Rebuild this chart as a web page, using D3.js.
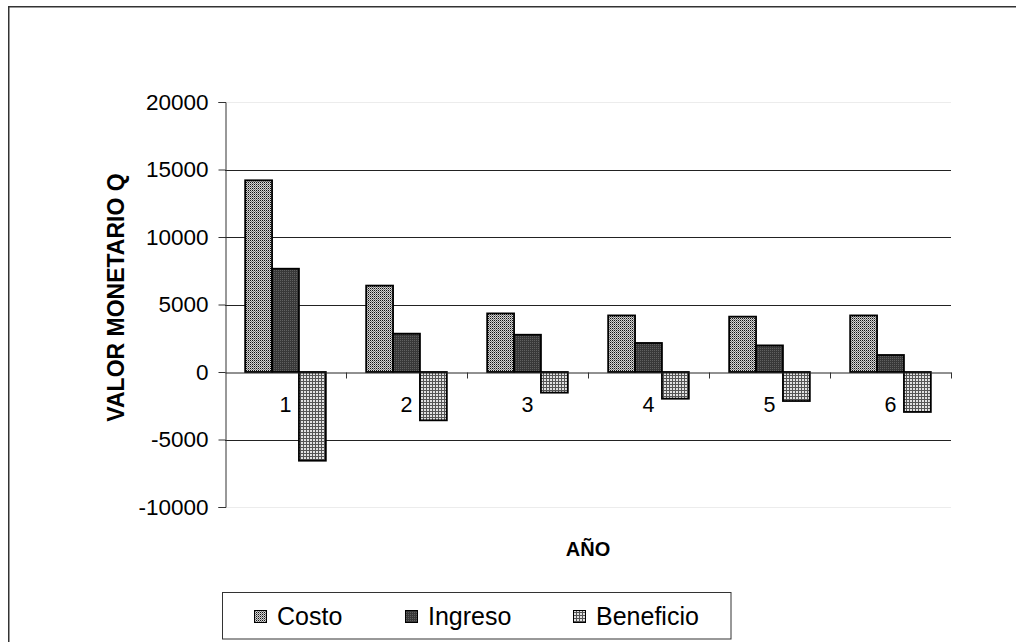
<!DOCTYPE html>
<html>
<head>
<meta charset="utf-8">
<script src="https://cdn.jsdelivr.net/npm/d3@7"></script>
<style>
  html, body { margin: 0; padding: 0; background: #fff; }
  svg { display: block; font-family: Arial, "Liberation Sans", sans-serif; }
</style>
</head>
<body>
<svg id="chart" width="1016" height="642"></svg>
<script>
// ---- Data ----
const categories = ["1", "2", "3", "4", "5", "6"];
const seriesNames = ["Costo", "Ingreso", "Beneficio"];
const costo = [14200, 6400, 4340, 4190, 4100, 4190];
const ingreso = [7650, 2840, 2760, 2150, 1970, 1260];
const beneficio = [-6570, -3580, -1530, -1980, -2150, -2960];
const yTicks = [-10000, -5000, 0, 5000, 10000, 15000, 20000];
const yTickLabels = ["-10000", "-5000", "0", "5000", "10000", "15000", "20000"];
const yTitle = "VALOR MONETARIO Q";
const xTitle = "AÑO";

const seriesValues = [costo, ingreso, beneficio];

const svg = d3.select("#chart");

// ---- Patterns ----
const defs = svg.append("defs");
// Costo: fine checker dots
const p1 = defs.append("pattern").attr("id", "pCosto").attr("patternUnits", "userSpaceOnUse")
  .attr("width", 2).attr("height", 2);
p1.append("rect").attr("width", 2).attr("height", 2).attr("fill", "#d4d4d4");
p1.append("rect").attr("width", 1).attr("height", 1).attr("fill", "#111");
p1.append("rect").attr("x", 1).attr("y", 1).attr("width", 1).attr("height", 1).attr("fill", "#7a7a7a");
// Ingreso: dark with lighter dots
const p2 = defs.append("pattern").attr("id", "pIngreso").attr("patternUnits", "userSpaceOnUse")
  .attr("width", 2).attr("height", 2);
p2.append("rect").attr("width", 2).attr("height", 2).attr("fill", "#383838");
p2.append("rect").attr("width", 1).attr("height", 1).attr("fill", "#606060");
// Beneficio: grid
const p3 = defs.append("pattern").attr("id", "pBeneficio").attr("patternUnits", "userSpaceOnUse")
  .attr("width", 3).attr("height", 3);
p3.append("rect").attr("width", 3).attr("height", 3).attr("fill", "#e2e2e2");
p3.append("rect").attr("width", 3).attr("height", 1).attr("fill", "#555");
p3.append("rect").attr("width", 1).attr("height", 3).attr("fill", "#555");

const fills = { "Costo": "url(#pCosto)", "Ingreso": "url(#pIngreso)", "Beneficio": "url(#pBeneficio)" };

// ---- Outer border ----
svg.append("rect").attr("x", 8.75).attr("y", 6.75).attr("width", 1040).attr("height", 660)
  .attr("fill", "none").attr("stroke", "#333").attr("stroke-width", 1.5);

// ---- Scales ----
const plotLeft = 225, plotRight = 951, plotTop = 102, plotBottom = 507;
const y = d3.scaleLinear().domain([-10000, 20000]).range([plotBottom, plotTop]);
const x0 = d3.scaleBand().domain(categories).range([plotLeft, plotRight]).padding(0);
const bw = x0.bandwidth();
const x1 = d3.scaleBand().domain(seriesNames).range([bw * 0.75 / 4.5, bw * 3.75 / 4.5]).padding(0);

// ---- Gridlines ----
svg.append("g").selectAll("line").data(yTicks.filter(t => t !== 0)).join("line")
  .attr("x1", plotLeft).attr("x2", plotRight)
  .attr("y1", d => Math.round(y(d)) + 0.5).attr("y2", d => Math.round(y(d)) + 0.5)
  .attr("stroke", d => (d === 20000 || d === -10000) ? "#ececec" : "#222")
  .attr("stroke-width", 1);

// ---- Bars ----
const gBars = svg.append("g");
seriesNames.forEach((name, si) => {
  gBars.append("g").selectAll("rect").data(seriesValues[si]).join("rect")
    .attr("x", (d, i) => x0(categories[i]) + x1(name))
    .attr("width", x1.bandwidth())
    .attr("y", d => y(Math.max(0, d)))
    .attr("height", d => Math.abs(y(d) - y(0)))
    .attr("fill", fills[name])
    .attr("stroke", "#000").attr("stroke-width", 1.8);
});

// ---- Y axis ----
const yAxis = d3.axisLeft(y).tickValues(yTicks).tickSize(7).tickPadding(10)
  .tickFormat((d, i) => yTickLabels[i]);
const gy = svg.append("g").attr("transform", `translate(${plotLeft + 0.5},0)`).call(yAxis);
gy.select(".domain").attr("stroke", "#333");
gy.selectAll(".tick line").attr("stroke", "#333");
gy.selectAll(".tick text").attr("font-size", "22.5px").attr("fill", "#000")
  .attr("font-family", "Arial, 'Liberation Sans', sans-serif");

// ---- X axis (at zero) ----
const xAxis = d3.axisBottom(x0).tickSize(0).tickPadding(0);
const gx = svg.append("g").attr("transform", `translate(0,${Math.round(y(0)) + 0.5})`).call(xAxis);
gx.select(".domain").attr("stroke", "#222");
gx.selectAll(".tick text").attr("font-size", "21.5px").attr("fill", "#000")
  .attr("font-family", "Arial, 'Liberation Sans', sans-serif")
  .attr("dy", null).attr("y", 39);
// category boundary tick marks
const bounds = categories.map(c => x0(c)).concat([plotRight]);
gx.append("g").selectAll("line").data(bounds.slice(1)).join("line")
  .attr("x1", d => Math.round(d) + 0.5).attr("x2", d => Math.round(d) + 0.5)
  .attr("y1", 0).attr("y2", 6).attr("stroke", "#333");

// ---- Titles ----
svg.append("text").attr("transform", `translate(124,${(plotTop + plotBottom) / 2 - 7}) rotate(-90)`)
  .attr("text-anchor", "middle").attr("font-weight", "bold").attr("font-size", "23px")
  .text(yTitle);
svg.append("text").attr("x", (plotLeft + plotRight) / 2).attr("y", 556)
  .attr("text-anchor", "middle").attr("font-weight", "bold").attr("font-size", "20px")
  .text(xTitle);

// ---- Legend ----
const legend = svg.append("g");
legend.append("rect").attr("x", 222.5).attr("y", 592.5).attr("width", 508.5).attr("height", 46.5)
  .attr("fill", "#fff").attr("stroke", "#333").attr("stroke-width", 1);
const legendX = [254, 405, 573];
seriesNames.forEach((name, i) => {
  legend.append("rect").attr("x", legendX[i] + 0.5).attr("y", 610.5).attr("width", 12).attr("height", 12)
    .attr("fill", fills[name]).attr("stroke", "#000").attr("stroke-width", 1);
  legend.append("text").attr("x", legendX[i] + 23).attr("y", 625)
    .attr("font-size", "25px").attr("fill", "#000").text(name);
});
</script>
</body>
</html>
